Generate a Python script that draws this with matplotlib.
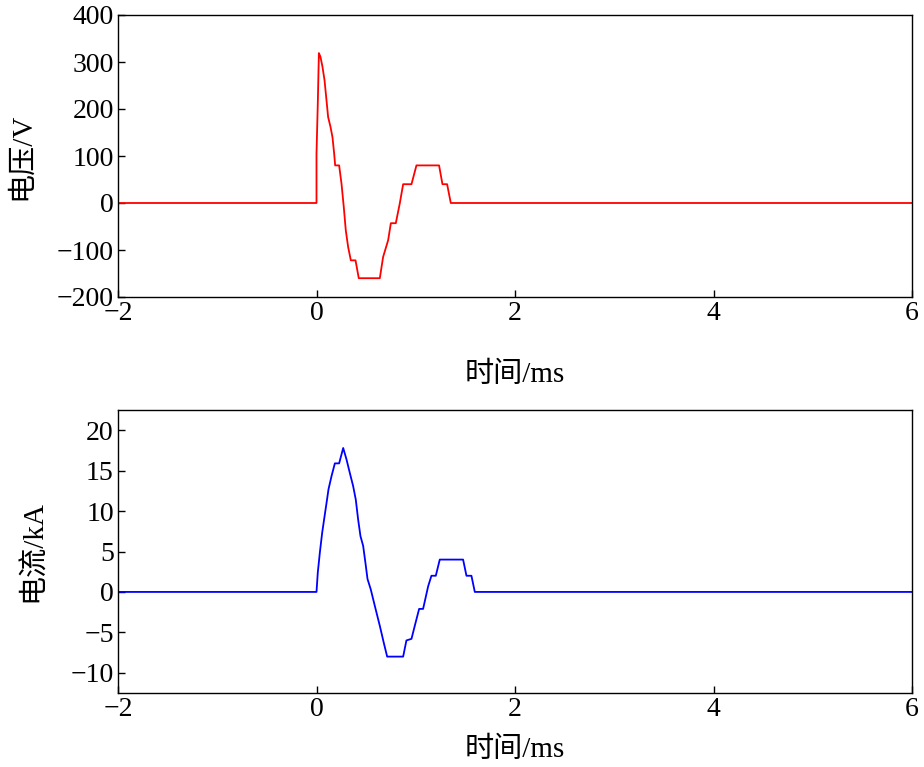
import matplotlib
matplotlib.use('Agg')
import matplotlib.pyplot as plt

plt.rcParams['font.family'] = ['Liberation Serif', 'Noto Sans CJK SC']
plt.rcParams['axes.unicode_minus'] = True

t_v = [-2, 0.0, 0.0, 0.013, 0.024, 0.04, 0.06, 0.081, 0.101, 0.117, 0.141, 0.161, 0.178, 0.188, 0.228, 0.252, 0.275, 0.295, 0.319, 0.346, 0.393, 0.426, 0.638, 0.671, 0.722, 0.749, 0.799, 0.839, 0.873, 0.957, 1.007, 1.235, 1.269, 1.316, 1.353, 6]
v = [0, 0, 105, 211, 319, 311, 290, 261, 218, 183, 162, 140, 105, 80, 80, 41, -9, -58, -94, -122, -122, -160, -160, -115, -79, -43, -43, -1, 40, 40, 80, 80, 40, 40, 0, 0]

t_i = [-2, 0.0, 0.013, 0.034, 0.057, 0.077, 0.101, 0.121, 0.151, 0.185, 0.228, 0.269, 0.302, 0.336, 0.369, 0.396, 0.419, 0.443, 0.47, 0.493, 0.514, 0.547, 0.587, 0.638, 0.678, 0.712, 0.873, 0.906, 0.957, 0.99, 1.034, 1.074, 1.125, 1.158, 1.202, 1.242, 1.477, 1.511, 1.561, 1.595, 6]
cur = [0, 0, 2.4, 4.9, 7.3, 9, 11, 12.7, 14.3, 15.9, 15.9, 17.8, 16.4, 14.7, 13.1, 11.4, 9, 6.9, 5.7, 3.6, 1.6, 0.3, -1.7, -4.2, -6.3, -8, -8, -6, -5.8, -4.2, -2.1, -2.1, 0.7, 2, 2, 4, 4, 2, 2, 0, 0]

fig = plt.figure(figsize=(9.24, 7.67), dpi=100)
W, H = 924, 767
ax1 = fig.add_axes([118/W, 1-297/H, (912-118)/W, (297-15)/H])
ax2 = fig.add_axes([118/W, 1-693/H, (912-118)/W, (693-410)/H])

ax1.plot(t_v, v, color='red', lw=1.3)
ax1.set_xlim(-2, 6); ax1.set_ylim(-200, 400)
ax1.set_yticks([-200, -100, 0, 100, 200, 300, 400])
ax1.set_ylabel('电压/V', fontsize=21)
ax1.set_xlabel('时间/ms', fontsize=21)
ax1.yaxis.set_label_coords(-0.105, 0.5)
ax1.xaxis.set_label_coords(0.5, -0.277)
ax1.xaxis.label.set_va('center')

ax2.plot(t_i, cur, color='blue', lw=1.3)
ax2.set_xlim(-2, 6); ax2.set_ylim(-12.5, 22.5)
ax2.set_yticks([-10, -5, 0, 5, 10, 15, 20])
ax2.set_ylabel('电流/kA', fontsize=21)
ax2.set_xlabel('时间/ms', fontsize=21)
ax2.yaxis.set_label_coords(-0.09, 0.5)
ax2.xaxis.set_label_coords(0.5, -0.20)
ax2.xaxis.label.set_va('center')

for ax in (ax1, ax2):
    ax.set_xticks([-2, 0, 2, 4, 6])
    ax.tick_params(direction='in', labelsize=20, length=5, width=1, pad=3)
    for s in ax.spines.values():
        s.set_linewidth(1)

fig.savefig('out.png', dpi=100)
